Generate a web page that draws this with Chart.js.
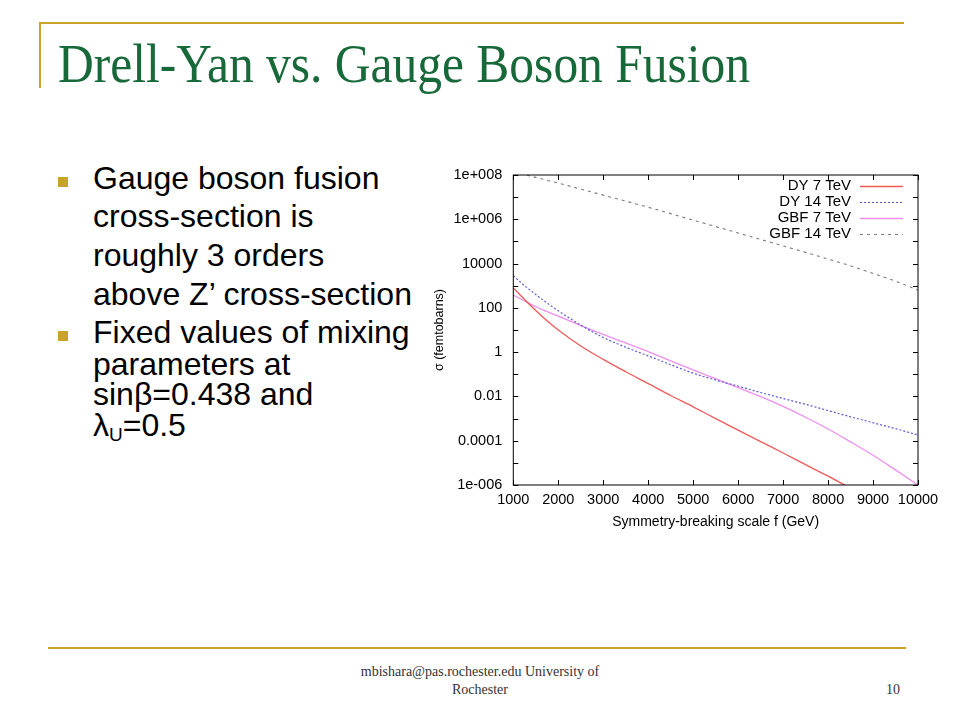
<!DOCTYPE html>
<html>
<head>
<meta charset="utf-8">
<script src="https://cdn.jsdelivr.net/npm/chart.js@4/dist/chart.umd.min.js"></script>
<style>
  body { margin: 0; background: #fff; }
  #slide { position: relative; width: 960px; height: 720px; overflow: hidden; background: #fff; }
  .gold { position: absolute; background: #c9a22a; }
  #title { position: absolute; left: 58px; top: 33px; font-family: "Liberation Serif", "DejaVu Serif", serif;
           font-size: 54px; color: #17693a; white-space: nowrap; transform-origin: left top; }
  .line { position: absolute; left: 93px; font-family: "Liberation Sans", Arial, sans-serif; font-size: 32px;
          color: #000; white-space: nowrap; line-height: 1; }
  .bullet { position: absolute; left: 58px; width: 10px; height: 10px; background: #c9a22a; }
  .foot { position: absolute; font-family: "Liberation Serif", serif; font-size: 14px; color: #333; white-space: nowrap; }
  #chartBox { position: absolute; left: 420px; top: 150px; width: 540px; height: 400px; }
</style>
</head>
<body>
<div id="slide">
  <div class="gold" style="left:40px; top:22px; width:864px; height:2px;"></div>
  <div class="gold" style="left:39px; top:22px; width:2px; height:66px;"></div>
  <div id="title">Drell-Yan vs. Gauge Boson Fusion</div>

  <div class="bullet" style="top:177px;"></div>
  <div class="line" style="top:162px;">Gauge boson fusion</div>
  <div class="line" style="top:200px;">cross-section is</div>
  <div class="line" style="top:239px;">roughly 3 orders</div>
  <div class="line" style="top:278px;">above Z’ cross-section</div>
  <div class="bullet" style="top:331px;"></div>
  <div class="line" style="top:316px;">Fixed values of mixing</div>
  <div class="line" style="top:348px;">parameters at</div>
  <div class="line" style="top:378px;">sinβ=0.438 and</div>
  <div class="line" style="top:409px;">λ<sub style="font-size:19px; vertical-align:-5px;">U</sub>=0.5</div>

  <div id="chartBox"><canvas id="chart" width="540" height="400"></canvas></div>

  <div class="gold" style="left:48px; top:647px; width:858px; height:2px;"></div>
  <div class="foot" style="left:0; width:960px; text-align:center; top:664px;">mbishara@pas.rochester.edu University of</div>
  <div class="foot" style="left:0; width:960px; text-align:center; top:682px;">Rochester</div>
  <div class="foot" style="left:886px; top:682px;">10</div>
</div>

<script>
// Symmetry-breaking scale f (GeV)
const fValues = [1000, 1250, 1500, 1750, 2000, 2500, 3000, 3500, 4000, 4500, 5000,
                 5500, 6000, 6500, 7000, 7500, 8000, 8500, 9000, 9500, 10000];

// cross sections in femtobarns
const dy7 = [800, 240, 76, 26, 10, 1.9, 0.47, 0.13, 0.038, 0.011, 0.0034,
             0.001, 3.0e-4, 9.1e-5, 2.8e-5, 8.3e-6, 2.5e-6, 7.1e-7, 2.0e-7, 6.3e-8, 1.8e-8];
const dy14 = [2800, 1000, 400, 166, 74, 16.6, 4.6, 1.66, 0.68, 0.27, 0.112,
              0.055, 0.029, 0.015, 0.0081, 0.0044, 0.0023, 0.0012, 6.5e-4, 3.5e-4, 1.8e-4];
const gbf7 = [380, 204, 112, 68, 42, 15.8, 6.3, 2.6, 1.05, 0.40, 0.158,
              0.063, 0.025, 0.0098, 0.00355, 0.00115, 3.4e-4, 8.9e-5, 2.2e-5, 4.8e-6, 1.0e-6];
const gbf14 = [1.4e8, 1.05e8, 7.8e7, 5.8e7, 4.3e7, 2.3e7, 1.23e7, 6.6e6, 3.5e6, 1.8e6, 9.1e5,
               4.7e5, 2.4e5, 1.23e5, 6.3e4, 3.2e4, 1.6e4, 7.9e3, 3.6e3, 1.6e3, 630];

const seriesNames = ['DY 7 TeV', 'DY 14 TeV', 'GBF 7 TeV', 'GBF 14 TeV'];

// y ticks: one per decade, label every second one (gnuplot style)
const yTickValues = [1e-6, 1e-5, 1e-4, 1e-3, 1e-2, 1e-1, 1, 10, 100, 1e3, 1e4, 1e5, 1e6, 1e7, 1e8];
const yTickLabels = ['1e-006', '', '0.0001', '', '0.01', '', '1', '', '100', '', '10000', '', '1e+006', '', '1e+008'];
const xTickValues = [1000, 2000, 3000, 4000, 5000, 6000, 7000, 8000, 9000, 10000];

const sans = '"Liberation Sans", Arial, sans-serif';

// fit the title width to the slide
const title = document.getElementById('title');
title.style.transform = 'scaleX(' + (692 / title.offsetWidth) + ')';

function toPoints(ys) {
  return fValues.map((f, i) => ({ x: f, y: ys[i] }));
}

// frame with inward ticks on all four sides
const frameTicks = {
  id: 'frameTicks',
  afterDatasetsDraw(chart) {
    const { ctx, chartArea: a, scales } = chart;
    ctx.save();
    ctx.strokeStyle = '#000';
    ctx.lineWidth = 1;
    ctx.strokeRect(a.left, a.top, a.right - a.left, a.bottom - a.top);
    ctx.beginPath();
    xTickValues.forEach(v => {
      const px = Math.round(scales.x.getPixelForValue(v)) + 0.5;
      ctx.moveTo(px, a.bottom); ctx.lineTo(px, a.bottom - 5);
      ctx.moveTo(px, a.top); ctx.lineTo(px, a.top + 5);
    });
    yTickValues.forEach(v => {
      const py = Math.round(scales.y.getPixelForValue(v)) + 0.5;
      ctx.moveTo(a.left, py); ctx.lineTo(a.left + 5, py);
      ctx.moveTo(a.right, py); ctx.lineTo(a.right - 5, py);
    });
    ctx.stroke();
    ctx.restore();
  }
};

// gnuplot-like key: text right aligned, sample to its right
const gnuKey = {
  id: 'gnuKey',
  afterDatasetsDraw(chart) {
    const { ctx, chartArea: a } = chart;
    ctx.save();
    ctx.font = '15px ' + sans;
    ctx.textAlign = 'right';
    ctx.textBaseline = 'middle';
    chart.data.datasets.forEach((ds, i) => {
      const y = a.top + 11 + i * 16;
      ctx.fillStyle = '#000';
      ctx.fillText(ds.label, a.right - 67, y);
      ctx.strokeStyle = ds.borderColor;
      ctx.lineWidth = ds.borderWidth;
      ctx.setLineDash(ds.borderDash || []);
      ctx.beginPath();
      ctx.moveTo(a.right - 58, y + 0.5);
      ctx.lineTo(a.right - 15, y + 0.5);
      ctx.stroke();
    });
    ctx.restore();
  }
};

const ctx = document.getElementById('chart').getContext('2d');
new Chart(ctx, {
  type: 'line',
  data: {
    datasets: [
      { label: seriesNames[0], data: toPoints(dy7), borderColor: '#f25a5a', borderWidth: 1.3 },
      { label: seriesNames[1], data: toPoints(dy14), borderColor: '#5a5ad8', borderWidth: 1.2, borderDash: [2, 2] },
      { label: seriesNames[2], data: toPoints(gbf7), borderColor: '#f08ef0', borderWidth: 1.3 },
      { label: seriesNames[3], data: toPoints(gbf14), borderColor: '#7a7a7a', borderWidth: 1.1, borderDash: [3, 4] }
    ]
  },
  options: {
    responsive: false,
    animation: false,
    devicePixelRatio: 1,
    layout: { padding: { left: 0, right: 42, top: 25, bottom: 0 } },
    elements: {
      point: { radius: 0 },
      line: { cubicInterpolationMode: 'monotone', fill: false }
    },
    plugins: { legend: { display: false }, tooltip: { enabled: false } },
    scales: {
      x: {
        type: 'linear',
        min: 1000,
        max: 10000,
        afterBuildTicks: s => { s.ticks = xTickValues.map(v => ({ value: v })); },
        afterFit: s => { s.height = 65; },
        grid: { display: false, drawTicks: false },
        border: { display: false },
        ticks: {
          color: '#000',
          padding: 6,
          maxRotation: 0,
          autoSkip: false,
          font: { family: sans, size: 14.5 },
          callback: v => String(v)
        },
        title: {
          display: true,
          text: 'Symmetry-breaking scale f (GeV)',
          color: '#000',
          font: { family: sans, size: 14 },
          padding: { top: 0, bottom: 19 }
        }
      },
      y: {
        type: 'logarithmic',
        min: 1e-6,
        max: 1e8,
        afterBuildTicks: s => { s.ticks = yTickValues.map(v => ({ value: v })); },
        afterFit: s => { s.width = 93.3; },
        grid: { display: false, drawTicks: false },
        border: { display: false },
        ticks: {
          color: '#000',
          padding: 11,
          autoSkip: false,
          font: { family: sans, size: 14.5 },
          callback: (v, i) => yTickLabels[i]
        },
        title: {
          display: true,
          text: 'σ (femtobarns)',
          color: '#000',
          font: { family: sans, size: 12.5 },
          padding: { top: 12, bottom: 0 }
        }
      }
    }
  },
  plugins: [frameTicks, gnuKey]
});
</script>
</body>
</html>
